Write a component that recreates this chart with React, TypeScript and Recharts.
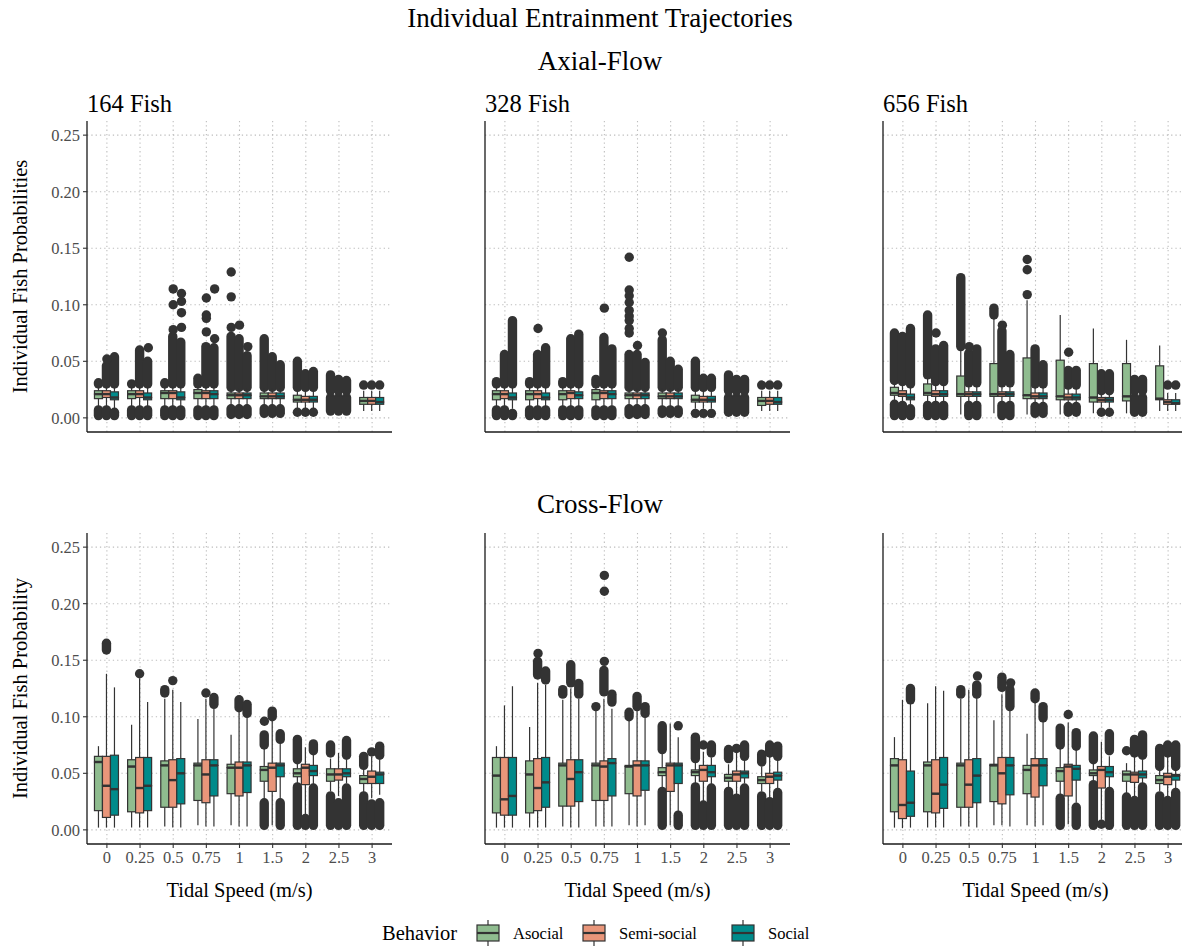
import React from 'react'
import { ComposedChart, Bar, Scatter, XAxis, YAxis, CartesianGrid } from 'recharts'

type Box = [number, number, number, number, number] // lo whisker, q1, median, q3, hi whisker
type Cols = [number, number, number, number] // dense outliers: low from/to, high from/to (0 = none)
type Pt = [number, number, number] // speed index, behavior index, value

const SPEEDS = ['0', '0.25', '0.5', '0.75', '1', '1.5', '2', '2.5', '3']
const BEHAVIORS = ['Asocial', 'Semi-social', 'Social']
const FILLS = ['#8FBC8F', '#E9967A', '#008B8B']
const DODGE = [-0.25, 0, 0.25]
const Y_TICKS = [0, 0.05, 0.1, 0.15, 0.2, 0.25]
const FISH = ['164 Fish', '328 Fish', '656 Fish']

// ---- Axial-Flow, 164 fish
const AX164_ASOCIAL: Box[] = [
  [0.009, 0.017, 0.021, 0.024, 0.028], [0.009, 0.017, 0.021, 0.024, 0.028], [0.009, 0.017, 0.022, 0.024, 0.028],
  [0.009, 0.017, 0.022, 0.025, 0.029], [0.01, 0.017, 0.02, 0.022, 0.026], [0.01, 0.017, 0.019, 0.022, 0.026],
  [0.008, 0.014, 0.016, 0.02, 0.024], [0.018, 0.018, 0.018, 0.018, 0.018], [0.006, 0.012, 0.015, 0.018, 0.024],
]
const AX164_SEMI: Box[] = [
  [0.009, 0.018, 0.021, 0.024, 0.028], [0.009, 0.018, 0.021, 0.024, 0.028], [0.009, 0.017, 0.022, 0.024, 0.028],
  [0.009, 0.017, 0.022, 0.024, 0.028], [0.01, 0.017, 0.02, 0.022, 0.026], [0.01, 0.017, 0.019, 0.022, 0.026],
  [0.008, 0.014, 0.016, 0.019, 0.024], [0.018, 0.018, 0.018, 0.018, 0.018], [0.006, 0.012, 0.015, 0.018, 0.024],
]
const AX164_SOCIAL: Box[] = [
  [0.008, 0.016, 0.018, 0.023, 0.028], [0.008, 0.016, 0.018, 0.022, 0.028], [0.008, 0.016, 0.018, 0.023, 0.028],
  [0.009, 0.017, 0.021, 0.024, 0.028], [0.01, 0.017, 0.02, 0.022, 0.026], [0.01, 0.017, 0.019, 0.022, 0.026],
  [0.008, 0.014, 0.016, 0.019, 0.024], [0.018, 0.018, 0.018, 0.018, 0.018], [0.006, 0.012, 0.014, 0.018, 0.024],
]
const AX164_ASOCIAL_OUT: Cols[] = [
  [0.002, 0.007, 0.03, 0.031], [0.002, 0.007, 0.03, 0.03], [0.002, 0.007, 0.03, 0.031],
  [0.002, 0.007, 0.03, 0.035], [0.003, 0.008, 0.027, 0.072], [0.004, 0.008, 0.027, 0.07],
  [0.005, 0.005, 0.027, 0.05], [0.006, 0.018, 0.024, 0.038], [0, 0, 0.029, 0.029],
]
const AX164_SEMI_OUT: Cols[] = [
  [0.002, 0.007, 0.03, 0.046], [0.002, 0.007, 0.03, 0.06], [0.002, 0.007, 0.03, 0.072],
  [0.002, 0.007, 0.03, 0.063], [0.003, 0.008, 0.027, 0.07], [0.004, 0.008, 0.027, 0.054],
  [0.005, 0.005, 0.027, 0.039], [0.006, 0.018, 0.024, 0.034], [0, 0, 0.029, 0.029],
]
const AX164_SOCIAL_OUT: Cols[] = [
  [0.002, 0.005, 0.03, 0.054], [0.002, 0.007, 0.03, 0.05], [0.002, 0.007, 0.03, 0.067],
  [0.002, 0.007, 0.03, 0.062], [0.003, 0.008, 0.027, 0.055], [0.004, 0.008, 0.027, 0.047],
  [0.005, 0.005, 0.027, 0.041], [0.006, 0.018, 0.024, 0.033], [0, 0, 0.029, 0.029],
]
const AX164_SPARSE: Pt[] = [
  [0, 1, 0.052], [1, 2, 0.062], [2, 1, 0.078], [2, 1, 0.1], [2, 1, 0.114], [2, 2, 0.08], [2, 2, 0.093],
  [2, 2, 0.103], [2, 2, 0.11], [3, 1, 0.076], [3, 1, 0.088], [3, 1, 0.091], [3, 1, 0.106], [3, 2, 0.07],
  [3, 2, 0.114], [4, 0, 0.08], [4, 0, 0.107], [4, 0, 0.129], [4, 1, 0.082], [4, 2, 0.063],
]

// ---- Axial-Flow, 328 fish
const AX328_ASOCIAL: Box[] = [
  [0.009, 0.016, 0.021, 0.024, 0.028], [0.009, 0.016, 0.021, 0.024, 0.028], [0.009, 0.016, 0.021, 0.024, 0.028],
  [0.009, 0.016, 0.022, 0.025, 0.029], [0.01, 0.017, 0.02, 0.022, 0.026], [0.01, 0.017, 0.019, 0.022, 0.026],
  [0.008, 0.014, 0.016, 0.02, 0.024], [0.018, 0.018, 0.018, 0.018, 0.018], [0.006, 0.011, 0.015, 0.018, 0.024],
]
const AX328_SEMI: Box[] = [
  [0.009, 0.017, 0.021, 0.024, 0.028], [0.009, 0.017, 0.021, 0.024, 0.028], [0.009, 0.017, 0.022, 0.024, 0.028],
  [0.009, 0.017, 0.022, 0.024, 0.028], [0.01, 0.017, 0.02, 0.022, 0.026], [0.01, 0.017, 0.019, 0.022, 0.026],
  [0.008, 0.014, 0.016, 0.019, 0.024], [0.018, 0.018, 0.018, 0.018, 0.018], [0.006, 0.012, 0.015, 0.018, 0.024],
]
const AX328_SOCIAL: Box[] = [
  [0.008, 0.016, 0.018, 0.022, 0.028], [0.008, 0.016, 0.018, 0.022, 0.028], [0.008, 0.017, 0.02, 0.023, 0.028],
  [0.009, 0.017, 0.021, 0.024, 0.028], [0.01, 0.017, 0.02, 0.022, 0.026], [0.01, 0.017, 0.019, 0.022, 0.026],
  [0.008, 0.014, 0.016, 0.019, 0.024], [0.018, 0.018, 0.018, 0.018, 0.018], [0.006, 0.012, 0.014, 0.018, 0.024],
]
const AX328_ASOCIAL_OUT: Cols[] = [
  [0.002, 0.007, 0.03, 0.032], [0.002, 0.007, 0.03, 0.032], [0.002, 0.007, 0.03, 0.032],
  [0.002, 0.007, 0.03, 0.034], [0.003, 0.008, 0.027, 0.056], [0.004, 0.007, 0.027, 0.069],
  [0.004, 0.004, 0.027, 0.05], [0.005, 0.018, 0.024, 0.038], [0, 0, 0.029, 0.029],
]
const AX328_SEMI_OUT: Cols[] = [
  [0.002, 0.007, 0.03, 0.056], [0.002, 0.007, 0.03, 0.056], [0.002, 0.007, 0.03, 0.07],
  [0.002, 0.007, 0.03, 0.071], [0.003, 0.008, 0.027, 0.056], [0.004, 0.007, 0.027, 0.05],
  [0.004, 0.004, 0.027, 0.035], [0.005, 0.018, 0.024, 0.034], [0, 0, 0.029, 0.029],
]
const AX328_SOCIAL_OUT: Cols[] = [
  [0.002, 0.004, 0.03, 0.086], [0.002, 0.007, 0.03, 0.062], [0.002, 0.007, 0.03, 0.074],
  [0.002, 0.007, 0.03, 0.061], [0.003, 0.008, 0.027, 0.049], [0.004, 0.007, 0.027, 0.043],
  [0.004, 0.004, 0.027, 0.035], [0.005, 0.018, 0.024, 0.034], [0, 0, 0.029, 0.029],
]
const AX328_SPARSE: Pt[] = [
  [1, 1, 0.079], [3, 1, 0.097], [4, 0, 0.075], [4, 0, 0.079], [4, 0, 0.086], [4, 0, 0.09], [4, 0, 0.095],
  [4, 0, 0.102], [4, 0, 0.108], [4, 0, 0.113], [4, 0, 0.142], [4, 1, 0.064], [5, 0, 0.075],
]

// ---- Axial-Flow, 656 fish
const AX656_ASOCIAL: Box[] = [
  [0.014, 0.02, 0.022, 0.027, 0.031], [0.013, 0.02, 0.022, 0.03, 0.036], [0.003, 0.019, 0.021, 0.037, 0.061],
  [0.004, 0.019, 0.021, 0.048, 0.089], [0.003, 0.017, 0.02, 0.053, 0.104], [0.003, 0.016, 0.019, 0.051, 0.091],
  [0.004, 0.014, 0.018, 0.048, 0.079], [0.004, 0.015, 0.019, 0.048, 0.069], [0.006, 0.016, 0.017, 0.046, 0.064],
]
const AX656_SEMI: Box[] = [
  [0.013, 0.019, 0.021, 0.024, 0.03], [0.013, 0.019, 0.021, 0.024, 0.03], [0.013, 0.019, 0.021, 0.023, 0.029],
  [0.013, 0.019, 0.021, 0.023, 0.029], [0.012, 0.017, 0.019, 0.022, 0.028], [0.012, 0.016, 0.018, 0.021, 0.027],
  [0.009, 0.014, 0.016, 0.018, 0.022], [0.018, 0.018, 0.018, 0.018, 0.018], [0.006, 0.012, 0.014, 0.016, 0.022],
]
const AX656_SOCIAL: Box[] = [
  [0.01, 0.016, 0.018, 0.021, 0.028], [0.013, 0.019, 0.021, 0.024, 0.03], [0.013, 0.019, 0.021, 0.023, 0.029],
  [0.013, 0.019, 0.021, 0.023, 0.029], [0.012, 0.017, 0.019, 0.022, 0.028], [0.012, 0.016, 0.018, 0.021, 0.027],
  [0.009, 0.014, 0.016, 0.018, 0.022], [0.018, 0.018, 0.018, 0.018, 0.018], [0.006, 0.012, 0.013, 0.016, 0.022],
]
const AX656_ASOCIAL_OUT: Cols[] = [
  [0.002, 0.012, 0.033, 0.075], [0.002, 0.011, 0.038, 0.091], [0, 0, 0.063, 0.124],
  [0, 0, 0.091, 0.097], [0, 0, 0, 0], [0, 0, 0, 0], [0, 0, 0, 0], [0, 0, 0, 0], [0, 0, 0, 0],
]
const AX656_SEMI_OUT: Cols[] = [
  [0.002, 0.011, 0.032, 0.072], [0.002, 0.011, 0.032, 0.061], [0.002, 0.011, 0.031, 0.057],
  [0.002, 0.011, 0.031, 0.077], [0.004, 0.01, 0.03, 0.061], [0.005, 0.01, 0.029, 0.042],
  [0.005, 0.005, 0.024, 0.039], [0.005, 0.018, 0.024, 0.034], [0, 0, 0.029, 0.029],
]
const AX656_SOCIAL_OUT: Cols[] = [
  [0.002, 0.008, 0.03, 0.079], [0.002, 0.011, 0.032, 0.064], [0.002, 0.011, 0.031, 0.061],
  [0.002, 0.011, 0.031, 0.056], [0.004, 0.01, 0.03, 0.047], [0.005, 0.01, 0.029, 0.042],
  [0.005, 0.005, 0.024, 0.039], [0.005, 0.018, 0.024, 0.034], [0, 0, 0.029, 0.029],
]
const AX656_SPARSE: Pt[] = [
  [1, 1, 0.075], [2, 1, 0.063], [3, 1, 0.082], [4, 0, 0.109], [4, 0, 0.131], [4, 0, 0.14], [5, 1, 0.058],
]

// ---- Cross-Flow, 164 fish
const CR164_ASOCIAL: Box[] = [
  [0.002, 0.017, 0.06, 0.065, 0.074], [0.002, 0.016, 0.056, 0.062, 0.093], [0.003, 0.02, 0.057, 0.061, 0.116],
  [0.004, 0.026, 0.057, 0.059, 0.098], [0.004, 0.032, 0.055, 0.058, 0.084], [0.025, 0.043, 0.053, 0.056, 0.072],
  [0.041, 0.047, 0.05, 0.054, 0.059], [0.034, 0.043, 0.049, 0.054, 0.063], [0.033, 0.041, 0.045, 0.048, 0.054],
]
const CR164_SEMI: Box[] = [
  [0.002, 0.011, 0.039, 0.065, 0.138], [0.002, 0.015, 0.037, 0.064, 0.134], [0.002, 0.02, 0.044, 0.062, 0.124],
  [0.003, 0.024, 0.049, 0.062, 0.116], [0.003, 0.03, 0.055, 0.06, 0.105], [0.004, 0.034, 0.055, 0.059, 0.097],
  [0.014, 0.04, 0.055, 0.058, 0.073], [0.03, 0.044, 0.049, 0.054, 0.068], [0.028, 0.041, 0.047, 0.052, 0.065],
]
const CR164_SOCIAL: Box[] = [
  [0.002, 0.013, 0.036, 0.066, 0.126], [0.002, 0.017, 0.039, 0.064, 0.113], [0.002, 0.023, 0.05, 0.063, 0.113],
  [0.003, 0.03, 0.057, 0.062, 0.107], [0.003, 0.033, 0.057, 0.06, 0.102], [0.027, 0.047, 0.057, 0.059, 0.077],
  [0.04, 0.048, 0.052, 0.057, 0.068], [0.041, 0.047, 0.05, 0.054, 0.062], [0.031, 0.041, 0.049, 0.051, 0.062],
]
const CR164_ASOCIAL_OUT: Cols[] = [
  [0, 0, 0, 0], [0, 0, 0, 0], [0, 0, 0.121, 0.124], [0, 0, 0, 0], [0, 0, 0, 0],
  [0.004, 0.024, 0.075, 0.084], [0.004, 0.038, 0.062, 0.08], [0.004, 0.03, 0.068, 0.075], [0.004, 0.03, 0.057, 0.065],
]
const CR164_SEMI_OUT: Cols[] = [
  [0, 0, 0.159, 0.165], [0, 0, 0.138, 0.138], [0, 0, 0.132, 0.132], [0, 0, 0.121, 0.121], [0, 0, 0.108, 0.115],
  [0, 0, 0.1, 0.105], [0.004, 0.01, 0, 0], [0.004, 0.024, 0, 0], [0.004, 0.023, 0.069, 0.069],
]
const CR164_SOCIAL_OUT: Cols[] = [
  [0, 0, 0, 0], [0, 0, 0, 0], [0, 0, 0, 0], [0, 0, 0.111, 0.117], [0, 0, 0.103, 0.111],
  [0.004, 0.024, 0.08, 0.085], [0.004, 0.037, 0.07, 0.076], [0.004, 0.037, 0.066, 0.079], [0.004, 0.024, 0.066, 0.074],
]
const CR164_SPARSE: Pt[] = [[5, 0, 0.096]]

// ---- Cross-Flow, 328 fish
const CR328_ASOCIAL: Box[] = [
  [0.002, 0.015, 0.048, 0.064, 0.074], [0.002, 0.015, 0.049, 0.061, 0.091], [0.003, 0.021, 0.057, 0.059, 0.115],
  [0.003, 0.026, 0.057, 0.059, 0.106], [0.004, 0.032, 0.056, 0.057, 0.097], [0.037, 0.048, 0.051, 0.055, 0.069],
  [0.041, 0.048, 0.051, 0.053, 0.06], [0.037, 0.043, 0.046, 0.049, 0.058], [0.034, 0.041, 0.044, 0.047, 0.056],
]
const CR328_SEMI: Box[] = [
  [0.002, 0.013, 0.027, 0.064, 0.11], [0.002, 0.017, 0.037, 0.063, 0.13], [0.002, 0.021, 0.045, 0.062, 0.125],
  [0.003, 0.026, 0.056, 0.061, 0.116], [0.003, 0.03, 0.057, 0.061, 0.106], [0.004, 0.034, 0.057, 0.059, 0.094],
  [0.024, 0.043, 0.053, 0.057, 0.069], [0.031, 0.043, 0.049, 0.052, 0.068], [0.028, 0.041, 0.047, 0.05, 0.068],
]
const CR328_SOCIAL: Box[] = [
  [0.002, 0.013, 0.03, 0.064, 0.127], [0.002, 0.02, 0.042, 0.064, 0.128], [0.002, 0.025, 0.051, 0.062, 0.116],
  [0.003, 0.03, 0.059, 0.063, 0.107], [0.004, 0.035, 0.057, 0.061, 0.1], [0.016, 0.041, 0.057, 0.059, 0.082],
  [0.04, 0.047, 0.051, 0.057, 0.064], [0.041, 0.046, 0.05, 0.052, 0.063], [0.037, 0.044, 0.048, 0.051, 0.063],
]
const CR328_ASOCIAL_OUT: Cols[] = [
  [0, 0, 0, 0], [0, 0, 0, 0], [0, 0, 0.12, 0.124], [0, 0, 0.109, 0.109], [0, 0, 0.1, 0.104],
  [0.004, 0.034, 0.071, 0.092], [0.004, 0.038, 0.063, 0.082], [0.004, 0.034, 0.063, 0.071], [0.004, 0.03, 0.06, 0.067],
]
const CR328_SEMI_OUT: Cols[] = [
  [0, 0, 0, 0], [0, 0, 0.137, 0.149], [0, 0, 0.13, 0.146], [0, 0, 0.122, 0.141], [0, 0, 0.109, 0.118],
  [0, 0, 0, 0], [0.004, 0.022, 0.075, 0.075], [0.004, 0.028, 0.072, 0.072], [0.004, 0.025, 0.068, 0.075],
]
const CR328_SOCIAL_OUT: Cols[] = [
  [0, 0, 0, 0], [0, 0, 0.1325, 0.1405], [0, 0, 0.12, 0.1295], [0, 0, 0.113, 0.12], [0, 0, 0.103, 0.109],
  [0.004, 0.013, 0.092, 0.092], [0.004, 0.037, 0.068, 0.075], [0.004, 0.037, 0.065, 0.075], [0.004, 0.033, 0.065, 0.074],
]
const CR328_SPARSE: Pt[] = [[1, 1, 0.156], [3, 1, 0.149], [3, 1, 0.211], [3, 1, 0.225]]

// ---- Cross-Flow, 656 fish
const CR656_ASOCIAL: Box[] = [
  [0.002, 0.016, 0.057, 0.063, 0.082], [0.002, 0.016, 0.057, 0.06, 0.112], [0.003, 0.02, 0.057, 0.059, 0.116],
  [0.004, 0.025, 0.057, 0.058, 0.097], [0.004, 0.032, 0.053, 0.057, 0.085], [0.03, 0.043, 0.052, 0.055, 0.072],
  [0.043, 0.048, 0.05, 0.053, 0.06], [0.032, 0.043, 0.049, 0.052, 0.059], [0.034, 0.041, 0.044, 0.048, 0.054],
]
const CR656_SEMI: Box[] = [
  [0.0015, 0.01, 0.022, 0.062, 0.115], [0.002, 0.015, 0.032, 0.062, 0.127], [0.003, 0.02, 0.04, 0.062, 0.124],
  [0.004, 0.023, 0.05, 0.064, 0.12], [0.003, 0.029, 0.057, 0.063, 0.113], [0.005, 0.03, 0.056, 0.058, 0.095],
  [0.009, 0.037, 0.053, 0.056, 0.078], [0.029, 0.042, 0.049, 0.051, 0.066], [0.027, 0.04, 0.047, 0.05, 0.066],
]
const CR656_SOCIAL: Box[] = [
  [0.002, 0.012, 0.024, 0.052, 0.112], [0.002, 0.019, 0.04, 0.064, 0.123], [0.002, 0.024, 0.048, 0.063, 0.117],
  [0.003, 0.031, 0.057, 0.064, 0.106], [0.004, 0.039, 0.057, 0.063, 0.097], [0.024, 0.044, 0.054, 0.057, 0.072],
  [0.037, 0.047, 0.051, 0.056, 0.065], [0.041, 0.046, 0.049, 0.052, 0.062], [0.037, 0.044, 0.048, 0.049, 0.055],
]
const CR656_ASOCIAL_OUT: Cols[] = [
  [0, 0, 0, 0], [0, 0, 0, 0], [0, 0, 0.12, 0.124], [0, 0, 0, 0], [0, 0, 0, 0],
  [0.004, 0.028, 0.075, 0.09], [0.004, 0.04, 0.062, 0.083], [0.004, 0.029, 0.07, 0.07], [0.004, 0.03, 0.056, 0.072],
]
const CR656_SEMI_OUT: Cols[] = [
  [0, 0, 0, 0], [0, 0, 0, 0], [0, 0, 0, 0], [0, 0, 0.126, 0.135], [0, 0, 0.116, 0.121],
  [0, 0, 0.102, 0.102], [0.005, 0.005, 0, 0], [0.004, 0.026, 0.068, 0.08], [0.004, 0.026, 0.068, 0.075],
]
const CR656_SOCIAL_OUT: Cols[] = [
  [0, 0, 0.115, 0.125], [0, 0, 0, 0], [0, 0, 0.12, 0.128], [0, 0, 0.109, 0.124], [0, 0, 0.099, 0.109],
  [0.004, 0.02, 0.074, 0.086], [0.004, 0.034, 0.07, 0.085], [0.004, 0.038, 0.066, 0.084], [0.004, 0.033, 0.056, 0.075],
]
const CR656_SPARSE: Pt[] = [[2, 2, 0.136], [3, 2, 0.13]]

const INK = '#333333'
const AXIS = '#1a1a1a'
const GREY_TEXT = '#4d4d4d'
const FONT = '"Liberation Serif", "Times New Roman", "DejaVu Serif", serif'

const PLOT_W = 305
const PLOT_H = 311
const Y_AXIS_W = 55
const X_AXIS_H = 40
const M_TOP = 5
const M_RIGHT = 5
const COL_LEFT = [87, 485, 883]
const ROW_TOP = [121, 533]
const PAD = (0.1 * PLOT_W) / 9.2 // ggplot's 0.6 discrete expansion vs recharts' 0.5 band half
const Y_DOMAIN: [number, number] = [-0.0125, 0.2625]
const DOT_R = 4.7
const TICK_SIZE = 16.5

const PANELS = [
  { row: 0, col: 0, boxes: [AX164_ASOCIAL, AX164_SEMI, AX164_SOCIAL], cols: [AX164_ASOCIAL_OUT, AX164_SEMI_OUT, AX164_SOCIAL_OUT], sparse: AX164_SPARSE },
  { row: 0, col: 1, boxes: [AX328_ASOCIAL, AX328_SEMI, AX328_SOCIAL], cols: [AX328_ASOCIAL_OUT, AX328_SEMI_OUT, AX328_SOCIAL_OUT], sparse: AX328_SPARSE },
  { row: 0, col: 2, boxes: [AX656_ASOCIAL, AX656_SEMI, AX656_SOCIAL], cols: [AX656_ASOCIAL_OUT, AX656_SEMI_OUT, AX656_SOCIAL_OUT], sparse: AX656_SPARSE },
  { row: 1, col: 0, boxes: [CR164_ASOCIAL, CR164_SEMI, CR164_SOCIAL], cols: [CR164_ASOCIAL_OUT, CR164_SEMI_OUT, CR164_SOCIAL_OUT], sparse: CR164_SPARSE },
  { row: 1, col: 1, boxes: [CR328_ASOCIAL, CR328_SEMI, CR328_SOCIAL], cols: [CR328_ASOCIAL_OUT, CR328_SEMI_OUT, CR328_SOCIAL_OUT], sparse: CR328_SPARSE },
  { row: 1, col: 2, boxes: [CR656_ASOCIAL, CR656_SEMI, CR656_SOCIAL], cols: [CR656_ASOCIAL_OUT, CR656_SEMI_OUT, CR656_SOCIAL_OUT], sparse: CR656_SPARSE },
]

// stacked segments: lo (blank), q1-lo (whisker), med-q1 (box), q3-med (box + median), hi-q3 (whisker)
function boxRows(boxes: Box[][]) {
  return SPEEDS.map((speed, i) => {
    const row: Record<string, any> = { speed }
    boxes.forEach((list, b) => {
      const [lo, q1, med, q3, hi] = list[i]
      row[`b${b}_0`] = lo
      row[`b${b}_1`] = q1 - lo
      row[`b${b}_2`] = med - q1
      row[`b${b}_3`] = q3 - med
      row[`b${b}_4`] = hi - q3
    })
    return row
  })
}

// stacked segments for the piled-up outlier columns: gap, low column, gap, high column
function colRows(cols: Cols[][]) {
  return SPEEDS.map((speed, i) => {
    const row: Record<string, any> = { speed }
    cols.forEach((list, b) => {
      const [la, lb, ha, hb] = list[i]
      const hasLow = lb > 0
      const hasHigh = hb > 0
      row[`c${b}_0`] = hasLow ? la : 0
      row[`c${b}_1`] = hasLow ? lb - la : 0
      row[`c${b}_2`] = hasHigh ? ha - (hasLow ? lb : 0) : 0
      row[`c${b}_3`] = hasHigh ? hb - ha : 0
      row[`c${b}_low`] = hasLow
      row[`c${b}_high`] = hasHigh
    })
    return row
  })
}

const blank = () => <g />

const whisker = (p: any) => {
  const cx = p.x + p.width / 2
  return <line x1={cx} x2={cx} y1={p.y} y2={p.y + p.height} stroke={INK} strokeWidth={1.2} />
}

const boxLow = (fill: string) => (p: any) => (
  <rect x={p.x} y={p.y} width={p.width} height={Math.max(p.height, 0)} fill={fill} stroke={INK} strokeWidth={1.2} />
)

const boxHigh = (fill: string) => (p: any) => (
  <g>
    <rect x={p.x} y={p.y} width={p.width} height={Math.max(p.height, 0)} fill={fill} stroke={INK} strokeWidth={1.2} />
    <line x1={p.x} x2={p.x + p.width} y1={p.y + p.height} y2={p.y + p.height} stroke={INK} strokeWidth={2.4} />
  </g>
)

const column = (flag: string) => (p: any) => {
  if (!p.payload || !p.payload[flag] || !isFinite(p.y)) return <g />
  const cx = p.x + p.width / 2
  return (
    <rect x={cx - DOT_R} y={p.y - DOT_R} width={DOT_R * 2} height={Math.max(p.height, 0) + DOT_R * 2} rx={DOT_R} ry={DOT_R} fill={INK} />
  )
}

const dot = (p: any) => <circle cx={p.cx} cy={p.cy} r={DOT_R} fill={INK} />

const tickFont = { fill: GREY_TEXT, fontSize: TICK_SIZE, fontFamily: FONT }
// back layer: ticks must exist for the grid, but draw nothing
const emptyTick = () => <g />

function Panel({ row, col, boxes, cols, sparse }: (typeof PANELS)[number]) {
  const left = COL_LEFT[col] - Y_AXIS_W
  const top = ROW_TOP[row] - M_TOP
  const width = Y_AXIS_W + PLOT_W + M_RIGHT
  const height = M_TOP + PLOT_H + X_AXIS_H
  const margin = { top: M_TOP, right: M_RIGHT, bottom: 0, left: 0 }
  const front = boxRows(boxes)
  const back = colRows(cols)
  const pts = sparse.map(([c, b, v]) => ({ x: c + DODGE[b], y: v }))
  const showX = row === 1
  const showY = col === 0

  return (
    <>
      <div style={{ position: 'absolute', left, top }}>
        <ComposedChart width={width} height={height} data={back} margin={margin} barCategoryGap="12.5%" barGap={0}>
          <CartesianGrid stroke="#bdbdbd" strokeDasharray="1.3 3" strokeWidth={1.1} syncWithTicks />
          <XAxis dataKey="speed" height={X_AXIS_H} padding={{ left: PAD, right: PAD }} tick={emptyTick} tickLine={false} axisLine={false} interval={0} />
          <XAxis xAxisId="num" type="number" dataKey="x" domain={[-0.5, 8.5]} allowDataOverflow hide padding={{ left: PAD, right: PAD }} />
          <YAxis type="number" domain={Y_DOMAIN} ticks={Y_TICKS} allowDataOverflow width={Y_AXIS_W} tick={emptyTick} tickLine={false} axisLine={false} />
          {BEHAVIORS.flatMap((_, b) => [
            <Bar key={`c${b}_0`} dataKey={`c${b}_0`} stackId={`c${b}`} shape={blank} isAnimationActive={false} />,
            <Bar key={`c${b}_1`} dataKey={`c${b}_1`} stackId={`c${b}`} shape={column(`c${b}_low`)} isAnimationActive={false} />,
            <Bar key={`c${b}_2`} dataKey={`c${b}_2`} stackId={`c${b}`} shape={blank} isAnimationActive={false} />,
            <Bar key={`c${b}_3`} dataKey={`c${b}_3`} stackId={`c${b}`} shape={column(`c${b}_high`)} isAnimationActive={false} />,
          ])}
          <Scatter data={pts} xAxisId="num" dataKey="y" shape={dot} isAnimationActive={false} />
        </ComposedChart>
      </div>
      <div style={{ position: 'absolute', left, top }}>
        <ComposedChart width={width} height={height} data={front} margin={margin} barCategoryGap="12.5%" barGap={0}>
          <XAxis
            dataKey="speed"
            height={X_AXIS_H}
            padding={{ left: PAD, right: PAD }}
            interval={0}
            tickSize={4}
            tickMargin={3}
            fontSize={TICK_SIZE}
            fontFamily={FONT}
            tickLine={{ stroke: INK, strokeWidth: 1.1 }}
            axisLine={{ stroke: AXIS, strokeWidth: 1.3 }}
            tick={showX ? tickFont : false}
          />
          <YAxis
            type="number"
            domain={Y_DOMAIN}
            ticks={Y_TICKS}
            allowDataOverflow
            width={Y_AXIS_W}
            tickSize={4}
            tickMargin={3}
            fontSize={TICK_SIZE}
            fontFamily={FONT}
            tickLine={{ stroke: INK, strokeWidth: 1.1 }}
            axisLine={{ stroke: AXIS, strokeWidth: 1.3 }}
            tick={showY ? tickFont : false}
            tickFormatter={(v: number) => v.toFixed(2)}
          />
          {BEHAVIORS.flatMap((_, b) => [
            <Bar key={`b${b}_0`} dataKey={`b${b}_0`} stackId={`b${b}`} shape={blank} isAnimationActive={false} />,
            <Bar key={`b${b}_1`} dataKey={`b${b}_1`} stackId={`b${b}`} shape={whisker} isAnimationActive={false} />,
            <Bar key={`b${b}_2`} dataKey={`b${b}_2`} stackId={`b${b}`} shape={boxLow(FILLS[b])} isAnimationActive={false} />,
            <Bar key={`b${b}_3`} dataKey={`b${b}_3`} stackId={`b${b}`} shape={boxHigh(FILLS[b])} isAnimationActive={false} />,
            <Bar key={`b${b}_4`} dataKey={`b${b}_4`} stackId={`b${b}`} shape={whisker} isAnimationActive={false} />,
          ])}
        </ComposedChart>
      </div>
    </>
  )
}

const LEGEND_X = [477, 583, 732]

export default function App() {
  return (
    <div style={{ position: 'absolute', left: 0, top: 0, width: 1182, height: 946, overflow: 'hidden', background: '#fff', fontFamily: FONT }}>
      {PANELS.map((p, k) => (
        <Panel key={k} {...p} />
      ))}
      <svg width={1182} height={946} style={{ position: 'absolute', left: 0, top: 0, pointerEvents: 'none' }} fontFamily={FONT}>
        <text x={600} y={27} textAnchor="middle" fontSize={27} fill="#000">Individual Entrainment Trajectories</text>
        <text x={600} y={70} textAnchor="middle" fontSize={27} fill="#000">Axial-Flow</text>
        <text x={600} y={513} textAnchor="middle" fontSize={27} fill="#000">Cross-Flow</text>
        {FISH.map((f, c) => (
          <text key={f} x={COL_LEFT[c]} y={112} fontSize={24.5} fill="#000">{f}</text>
        ))}
        <text transform={`translate(27, ${ROW_TOP[0] + PLOT_H / 2}) rotate(-90)`} textAnchor="middle" fontSize={20.5} fill="#000">
          Individual Fish Probabilities
        </text>
        <text transform={`translate(27, ${ROW_TOP[1] + PLOT_H / 2}) rotate(-90)`} textAnchor="middle" fontSize={20.5} fill="#000">
          Individual Fish Probability
        </text>
        {COL_LEFT.map((l, c) => (
          <text key={c} x={l + PLOT_W / 2} y={897} textAnchor="middle" fontSize={20.5} fill="#000">Tidal Speed (m/s)</text>
        ))}
        <text x={382} y={940} fontSize={20.5} fill="#000">Behavior</text>
        {BEHAVIORS.map((name, b) => {
          const x = LEGEND_X[b]
          return (
            <g key={name}>
              <line x1={x + 11} x2={x + 11} y1={920} y2={946} stroke={INK} strokeWidth={1.2} />
              <rect x={x} y={925} width={22} height={16} fill={FILLS[b]} stroke={INK} strokeWidth={1.2} />
              <line x1={x} x2={x + 22} y1={933} y2={933} stroke={INK} strokeWidth={2.2} />
              <text x={x + 36} y={939} fontSize={16.5} fill="#000">{name}</text>
            </g>
          )
        })}
      </svg>
    </div>
  )
}
